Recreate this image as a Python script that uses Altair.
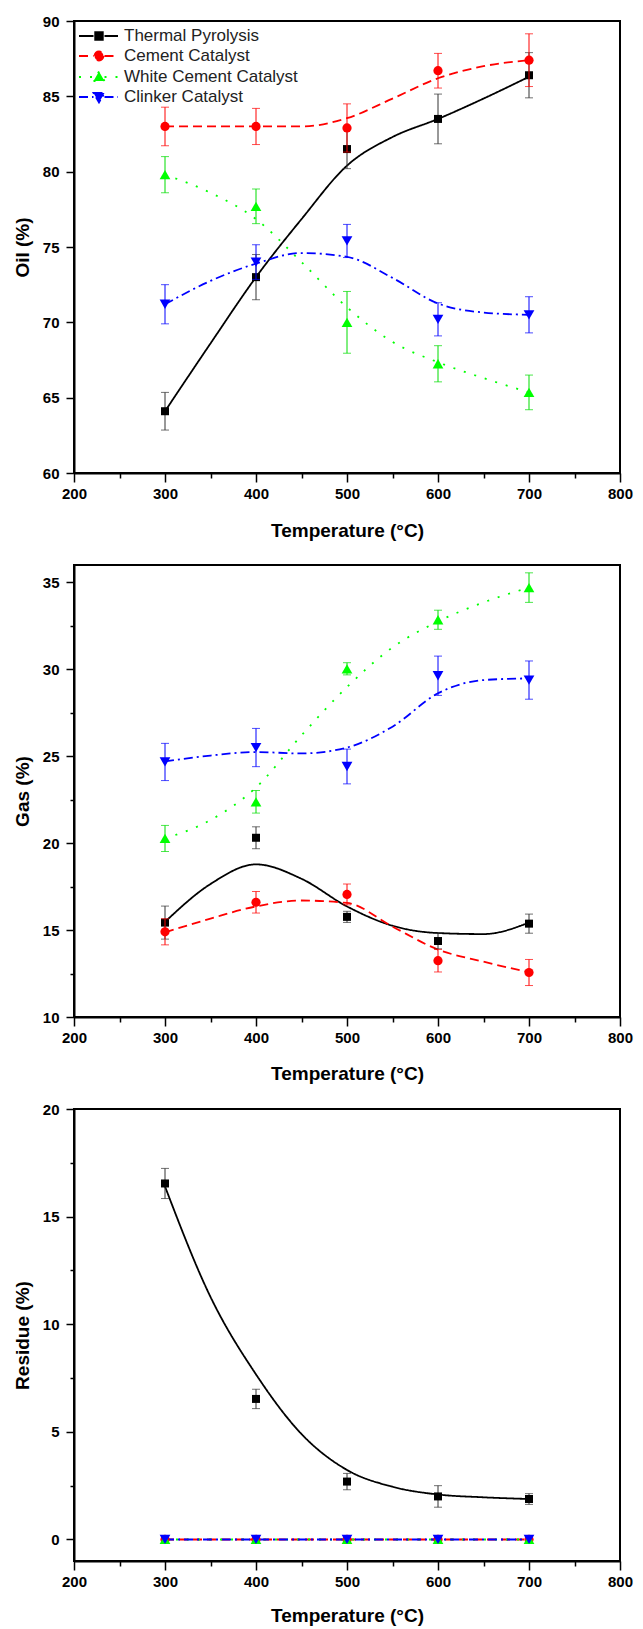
import altair as alt
import pandas as pd

# ---------------- data ----------------
temps = [300, 400, 500, 600, 700]
curve_temps = [300, 350, 400, 450, 500, 550, 600, 650, 700]
series_names = ["Thermal Pyrolysis", "Cement Catalyst", "White Cement Catalyst", "Clinker Catalyst"]

# Oil (%)
oil_thermal = [64.1, 73.0, 81.5, 83.5, 86.4]
oil_thermal_err = [1.25, 1.5, 1.3, 1.65, 1.5]
oil_cement = [83.0, 83.0, 82.9, 86.7, 87.4]
oil_cement_err = [1.28, 1.2, 1.6, 1.15, 1.75]
oil_white = [79.8, 77.7, 70.0, 67.25, 65.35]
oil_white_err = [1.2, 1.15, 2.05, 1.2, 1.15]
oil_clinker = [71.2, 74.0, 75.4, 70.2, 70.5]
oil_clinker_err = [1.3, 1.15, 1.1, 1.1, 1.2]
oil_thermal_fit = [64.1, 68.6, 73.0, 76.85, 80.4, 82.3, 83.5, 84.85, 86.3]
oil_cement_fit = [83.0, 83.0, 83.0, 83.0, 83.55, 84.85, 86.2, 87.0, 87.4]
oil_white_fit = [79.8, 78.6, 76.85, 74.0, 71.0, 68.7, 67.35, 66.3, 65.35]
oil_clinker_fit = [71.2, 72.75, 73.9, 74.6, 74.35, 72.95, 71.25, 70.65, 70.5]

# Gas (%)
gas_thermal = [15.43, 20.31, 15.76, 14.37, 15.37]
gas_thermal_err = [0.95, 0.63, 0.32, 0.45, 0.55]
gas_cement = [14.9, 16.6, 17.05, 13.24, 12.56]
gas_cement_err = [0.75, 0.62, 0.6, 0.65, 0.75]
gas_white = [20.27, 22.38, 30.03, 32.85, 34.7]
gas_white_err = [0.75, 0.65, 0.35, 0.55, 0.85]
gas_clinker = [24.67, 25.5, 24.41, 29.63, 29.38]
gas_clinker_err = [1.07, 1.1, 1.0, 1.13, 1.1]
gas_thermal_fit = [15.47, 17.65, 18.78, 17.95, 16.36, 15.25, 14.83, 14.77, 15.43]
gas_cement_fit = [14.87, 15.66, 16.36, 16.7, 16.56, 15.2, 13.88, 13.18, 12.58]
gas_white_fit = [20.27, 21.33, 23.2, 26.2, 28.98, 31.26, 32.75, 33.85, 34.7]
gas_clinker_fit = [24.7, 25.04, 25.24, 25.16, 25.5, 26.7, 28.62, 29.38, 29.48]

# Residue (%)
res_thermal = [16.54, 6.53, 2.69, 2.0, 1.88]
res_thermal_err = [0.7, 0.45, 0.38, 0.5, 0.25]
res_cement = [0, 0, 0, 0, 0]
res_white = [0, 0, 0, 0, 0]
res_clinker = [0, 0, 0, 0, 0]
res_zero_err = [0, 0, 0, 0, 0]
res_thermal_fit = [16.4, 11.27, 7.67, 4.9, 3.23, 2.45, 2.09, 1.96, 1.88]
res_zero_fit = [0, 0, 0, 0, 0, 0, 0, 0, 0]

# ---------------- styles ----------------
colors = ["#000000", "#FF0000", "#00FF00", "#0000FF"]
dashes = [[1, 0], [9, 5], [2, 9], [9, 4, 2, 4]]
shapes = ["square", "circle", "triangle-up", "triangle-down"]
sizes = [64, 85, 115, 115]
bar_colors = ["#333333", "#FF0000", "#00DD00", "#0000FF"]
# legend glyphs: line - marker - line (units of 10 px with symbolSize 400)
legend_paths = [
    "M-1,0H0.45M1.55,0H2.9M0.62,-0.38H1.38V0.38H0.62Z",
    "M-1,0H0.45M1.55,0H2.9M1.45,0A0.45,0.45 0 1,1 0.55,0A0.45,0.45 0 1,1 1.45,0Z",
    "M-1,0H0.45M1.55,0H2.9M0.45,0.4L1.55,0.4L1,-0.55Z",
    "M-1,0H0.45M1.55,0H2.9M0.45,-0.4L1.55,-0.4L1,0.55Z",
]

W, H = 546, 452
XTITLE = "Temperature (°C)"


def panel(ytitle, ydomain, ytick_values, values, errs, fits, xtitle_pad):
    xscale = alt.Scale(domain=[200, 800], nice=False, zero=False)
    yscale = alt.Scale(domain=ydomain, nice=False, zero=False)
    xaxis = alt.Axis(
        title=XTITLE,
        values=list(range(200, 801, 50)),
        labelExpr="datum.value % 100 === 0 ? datum.label : ''",
        tickSize={"condition": {"test": "datum.value % 100 !== 0", "value": 5}, "value": 9},
        labelFlush=False,
        labelOverlap=False,
        labelPadding=4,
        titlePadding=xtitle_pad,
    )
    yaxis = alt.Axis(
        title=ytitle,
        values=ytick_values,
        labelExpr="datum.value % 5 === 0 ? datum.label : ''",
        tickSize={"condition": {"test": "datum.value % 5 !== 0", "value": 4}, "value": 8},
        labelFlush=False,
        labelOverlap=False,
        labelPadding=7,
        titlePadding=10,
    )
    layers = []
    # fitted curves
    for i, name in enumerate(series_names):
        df = pd.DataFrame({"T": curve_temps, "v": fits[i]})
        layers.append(
            alt.Chart(df).mark_line(
                color=colors[i], strokeDash=dashes[i], strokeWidth=1.8,
                interpolate="monotone", clip=True
            ).encode(
                x=alt.X("T:Q", scale=xscale, axis=xaxis),
                y=alt.Y("v:Q", scale=yscale, axis=yaxis),
            )
        )
    # error bars + points
    for i, name in enumerate(series_names):
        lo = [v - e for v, e in zip(values[i], errs[i])]
        hi = [v + e for v, e in zip(values[i], errs[i])]
        if any(e > 0 for e in errs[i]):
            dfe = pd.DataFrame({"T": temps, "lo": lo, "hi": hi})
            layers.append(
                alt.Chart(dfe).mark_rule(color=bar_colors[i], strokeWidth=1).encode(
                    x="T:Q", y="lo:Q", y2="hi:Q"
                )
            )
            dfc = pd.DataFrame({"T": temps + temps, "cap": lo + hi})
            layers.append(
                alt.Chart(dfc).mark_tick(
                    color=bar_colors[i], orient="horizontal", size=8, thickness=1
                ).encode(x="T:Q", y="cap:Q")
            )
        dfp = pd.DataFrame({"T": temps, "v": values[i]})
        layers.append(
            alt.Chart(dfp).mark_point(
                filled=True, shape=shapes[i], size=sizes[i], color=colors[i], opacity=1
            ).encode(x="T:Q", y="v:Q")
        )
    # legend layer (no visible marks, only the legend)
    dfl = pd.DataFrame({"series": series_names, "T": temps[:4], "v": [v[0] for v in values]})
    leg = alt.Legend(
        title=None, orient="top-left", offset=4, padding=0,
        labelFont="Liberation Sans", labelFontSize=17, labelColor="#222222", labelLimit=0,
        symbolSize=400, symbolStrokeWidth=1.8, labelOffset=24, rowPadding=1,
    )
    layers.append(
        alt.Chart(dfl).transform_filter("false").mark_point(filled=True, opacity=1).encode(
            x="T:Q", y="v:Q",
            fill=alt.Fill("series:N", scale=alt.Scale(domain=series_names, range=colors), legend=leg, sort=series_names),
            stroke=alt.Stroke("series:N", scale=alt.Scale(domain=series_names, range=colors), legend=leg, sort=series_names),
            shape=alt.Shape("series:N", scale=alt.Scale(domain=series_names, range=legend_paths), legend=leg, sort=series_names),
            strokeDash=alt.StrokeDash("series:N", scale=alt.Scale(domain=series_names, range=dashes), legend=leg, sort=series_names),
        )
    )
    return alt.layer(*layers).properties(width=W, height=H)


oil = panel(
    "Oil (%)", [60, 90], [60 + 2.5 * k for k in range(13)],
    [oil_thermal, oil_cement, oil_white, oil_clinker],
    [oil_thermal_err, oil_cement_err, oil_white_err, oil_clinker_err],
    [oil_thermal_fit, oil_cement_fit, oil_white_fit, oil_clinker_fit],
    20,
)
gas = panel(
    "Gas (%)", [10, 36], [10 + 2.5 * k for k in range(11)],
    [gas_thermal, gas_cement, gas_white, gas_clinker],
    [gas_thermal_err, gas_cement_err, gas_white_err, gas_clinker_err],
    [gas_thermal_fit, gas_cement_fit, gas_white_fit, gas_clinker_fit],
    19,
)
res = panel(
    "Residue (%)", [-1, 20], [2.5 * k for k in range(9)],
    [res_thermal, res_cement, res_white, res_clinker],
    [res_thermal_err, res_zero_err, res_zero_err, res_zero_err],
    [res_thermal_fit, res_zero_fit, res_zero_fit, res_zero_fit],
    17,
)

chart = alt.vconcat(oil, gas, res, spacing=92, bounds="flush").properties(
    padding={"left": 4, "top": 5, "right": 0, "bottom": 0},
    background="white",
).configure_view(
    stroke="black", strokeWidth=2
).configure_axis(
    grid=False,
    domainColor="black", domainWidth=2,
    tickColor="black", tickWidth=1.5,
    labelFont="Liberation Sans", labelFontSize=15, labelFontWeight="bold", labelColor="black",
    titleFont="Liberation Sans", titleFontSize=19, titleFontWeight="bold", titleColor="black",
)

chart.save("out.html", embed_options={"renderer": "svg", "actions": False})
